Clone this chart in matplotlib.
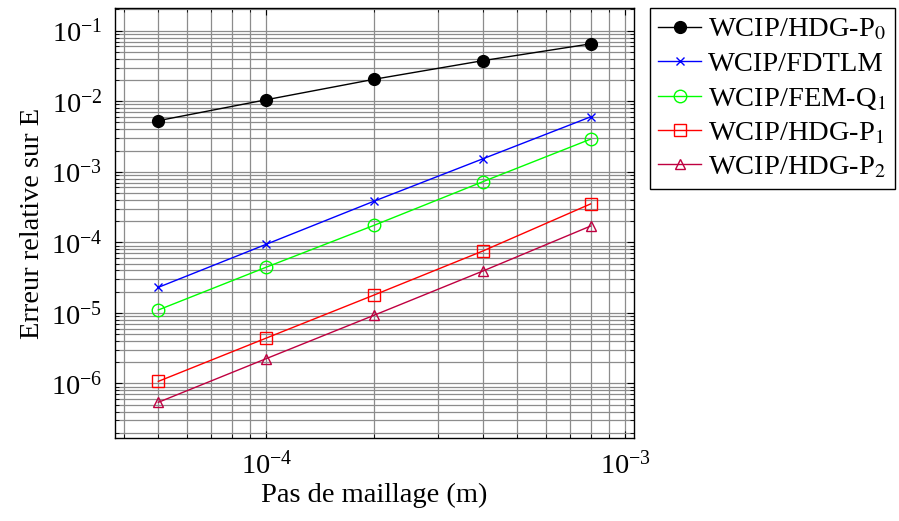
import numpy as np
import matplotlib
matplotlib.use("Agg")
import matplotlib.pyplot as plt
from matplotlib.ticker import LogLocator, NullFormatter

plt.rcParams['font.family'] = ['Liberation Serif', 'DejaVu Serif']
plt.rcParams['mathtext.fontset'] = 'stix'

# pas de maillage (m)
h = [5e-5, 1e-4, 2e-4, 4e-4, 8e-4]

# erreurs relatives
err_p0 = [5.3e-3, 1.05e-2, 2.05e-2, 3.75e-2, 6.5e-2]
err_fdtlm = [2.3e-5, 9.4e-5, 3.85e-4, 1.52e-3, 6.0e-3]
err_femq1 = [1.1e-5, 4.45e-5, 1.75e-4, 7.2e-4, 2.9e-3]
err_p1 = [1.07e-6, 4.4e-6, 1.8e-5, 7.5e-5, 3.5e-4]
err_p2 = [5.4e-7, 2.25e-6, 9.3e-6, 3.9e-5, 1.7e-4]

labels = [r'WCIP/HDG-P$_0$', 'WCIP/FDTLM', r'WCIP/FEM-Q$_1$',
          r'WCIP/HDG-P$_1$', r'WCIP/HDG-P$_2$']

x_ticks = [1e-4, 1e-3]
y_ticks = [1e-6, 1e-5, 1e-4, 1e-3, 1e-2, 1e-1]

fig = plt.figure(figsize=(8.99, 5.21), dpi=100)
ax = fig.add_axes([0.128, 0.159, 0.577, 0.8256])

ax.loglog(h, err_p0, '-o', color='black', lw=1, ms=8.5, label=labels[0])
ax.loglog(h, err_fdtlm, '-x', color='blue', lw=1, ms=6, mew=1, label=labels[1])
ax.loglog(h, err_femq1, '-o', color='#00ff00', lw=1, ms=9, mfc='none', mew=1, label=labels[2])
ax.loglog(h, err_p1, '-s', color='red', lw=1, ms=8.5, mfc='none', mew=1, label=labels[3])
ax.loglog(h, err_p2, '-^', color='#bf0040', lw=1, ms=6.5, mfc='none', mew=1, label=labels[4])

# limites comme pgfplots (enlarge limits 10%)
lx = np.log10([h[0], h[-1]])
dx = 0.1 * (lx[1] - lx[0])
ax.set_xlim(10 ** (lx[0] - dx), 10 ** (lx[1] + dx))
ly = np.log10([min(err_p2), max(err_p0)])
dy = 0.1 * (ly[1] - ly[0])
ax.set_ylim(10 ** (ly[0] - dy), 10 ** (ly[1] + dy))

ax.set_xticks(x_ticks)
ax.set_yticks(y_ticks)
ax.xaxis.set_minor_locator(LogLocator(base=10, subs=np.arange(2, 10), numticks=20))
ax.xaxis.set_minor_formatter(NullFormatter())
ax.yaxis.set_minor_locator(LogLocator(base=10, subs=np.arange(2, 10), numticks=20))
ax.yaxis.set_minor_formatter(NullFormatter())

ax.grid(True, which='both', color='#8c8c8c', lw=0.9)
ax.set_axisbelow(True)
ax.tick_params(which='both', direction='in', top=True, right=True, labelsize=20.5, pad=9)
ax.tick_params(which='major', length=5)
ax.tick_params(which='minor', length=3)
for s in ax.spines.values():
    s.set_linewidth(1.0)

ax.set_xlabel('Pas de maillage (m)', fontsize=20.5, labelpad=3)
ax.set_ylabel('Erreur relative sur E', fontsize=20.5, labelpad=4)

leg = ax.legend(loc='upper left', bbox_to_anchor=(1.031, 1.0), borderaxespad=0,
                fontsize=20.5, fancybox=False, framealpha=1, edgecolor='black',
                handlelength=1.5, handletextpad=0.25, labelspacing=0.3,
                borderpad=0.3)
leg.get_frame().set_linewidth(1.0)

fig.savefig('out.png', dpi=100)
